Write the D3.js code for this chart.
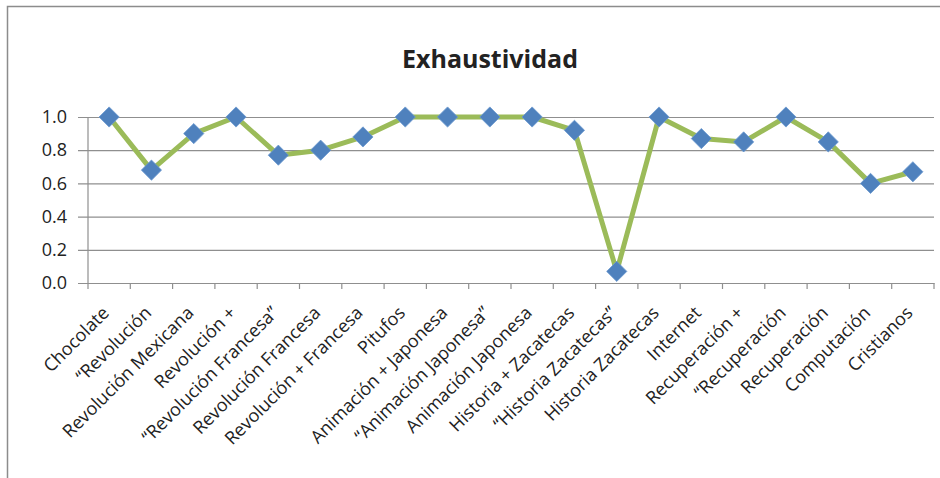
<!DOCTYPE html>
<html>
<head>
<meta charset="utf-8">
<script src="https://cdn.jsdelivr.net/npm/d3@7"></script>
<style>
  html, body { margin: 0; padding: 0; background: #fff; }
  svg { display: block; }
  text { font-family: "Open Sans", "Noto Sans", sans-serif; fill: #222; }
</style>
</head>
<body>
<svg id="chart" width="940" height="478"></svg>
<script>
// Query names and their recall (exhaustividad) values
const categories = [
  "Chocolate", "“Revolución", "Revolución Mexicana", "Revolución +",
  "“Revolución Francesa”", "Revolución Francesa", "Revolución + Francesa",
  "Pitufos", "Animación + Japonesa", "“Animación Japonesa”", "Animación Japonesa",
  "Historia + Zacatecas", "“Historia Zacatecas”", "Historia Zacatecas",
  "Internet", "Recuperación +", "“Recuperación", "Recuperación",
  "Computación", "Cristianos"
];
const recall = [
  1.0, 0.68, 0.90, 1.0, 0.77, 0.80, 0.88,
  1.0, 1.0, 1.0, 1.0, 0.92, 0.07, 1.0,
  0.87, 0.85, 1.0, 0.85, 0.60, 0.67
];
const yTicks = [0, 0.2, 0.4, 0.6, 0.8, 1.0];
const title = "Exhaustividad";

const svg = d3.select("#chart");
const W = 940, H = 478;
const m = { left: 88, right: 6, top: 117, bottom: 195 };

// Outer chart frame
svg.append("path")
  .attr("d", `M7.5,${H} V6.5 H${W}`)
  .attr("fill", "none")
  .attr("stroke", "#8c8c8c")
  .attr("stroke-width", 1.5);

const x = d3.scaleBand()
  .domain(categories)
  .range([m.left, W - m.right])
  .padding(0);
const y = d3.scaleLinear()
  .domain([0, 1])
  .range([H - m.bottom, m.top]);

// Title
svg.append("text")
  .attr("x", 490)
  .attr("y", 68)
  .attr("text-anchor", "middle")
  .style("font-size", "25px")
  .style("font-weight", "bold")
  .text(title);

// Horizontal gridlines with y-axis labels
const yAxis = d3.axisLeft(y)
  .tickValues(yTicks)
  .tickFormat(d3.format(".1f"))
  .tickSize(-(W - m.right - m.left))
  .tickPadding(21);
const gy = svg.append("g")
  .attr("transform", `translate(${m.left},0)`)
  .call(yAxis);
gy.select(".domain").remove();
gy.selectAll(".tick line")
  .attr("x1", -10)
  .attr("stroke", "#8f8f8f")
  .attr("stroke-width", 1.2);
gy.selectAll(".tick text")
  .style("font-size", "18px")
  .attr("fill", "#222");

// Vertical axis line
svg.append("line")
  .attr("x1", m.left).attr("x2", m.left)
  .attr("y1", y(1)).attr("y2", y(0))
  .attr("stroke", "#8f8f8f")
  .attr("stroke-width", 1.2);

// Category axis with boundary ticks
const gx = svg.append("g")
  .attr("transform", `translate(0,${y(0)})`)
  .call(d3.axisBottom(x).tickSize(0).tickPadding(0));
gx.select(".domain")
  .attr("stroke", "#8f8f8f")
  .attr("stroke-width", 1.2);
const bounds = categories.map(c => x(c)).concat([x(categories[categories.length - 1]) + x.bandwidth()]);
gx.selectAll(".bound")
  .data(bounds)
  .join("line")
  .attr("class", "bound")
  .attr("x1", d => d).attr("x2", d => d)
  .attr("y1", 0).attr("y2", 6)
  .attr("stroke", "#8f8f8f")
  .attr("stroke-width", 1.2);
gx.selectAll(".tick text")
  .style("font-size", "18px")
  .attr("fill", "#222")
  .attr("text-anchor", "end")
  .attr("dy", "0")
  .attr("transform", "translate(1,31) rotate(-45)");

// Recall line
const line = d3.line()
  .x((d, i) => x(categories[i]) + x.bandwidth() / 2)
  .y(d => y(d));
svg.append("path")
  .datum(recall)
  .attr("d", line)
  .attr("fill", "none")
  .attr("stroke", "#9bbb59")
  .attr("stroke-width", 5)
  .attr("stroke-linejoin", "round");

// Diamond markers
const diamond = d3.symbol().type(d3.symbolDiamond2).size(260);
svg.selectAll(".pt")
  .data(recall)
  .join("path")
  .attr("class", "pt")
  .attr("d", diamond)
  .attr("transform", (d, i) => `translate(${x(categories[i]) + x.bandwidth() / 2},${y(d)})`)
  .attr("fill", "#4f81bd")
  .attr("stroke", "#6a98cf")
  .attr("stroke-width", 0.8);
</script>
</body>
</html>
